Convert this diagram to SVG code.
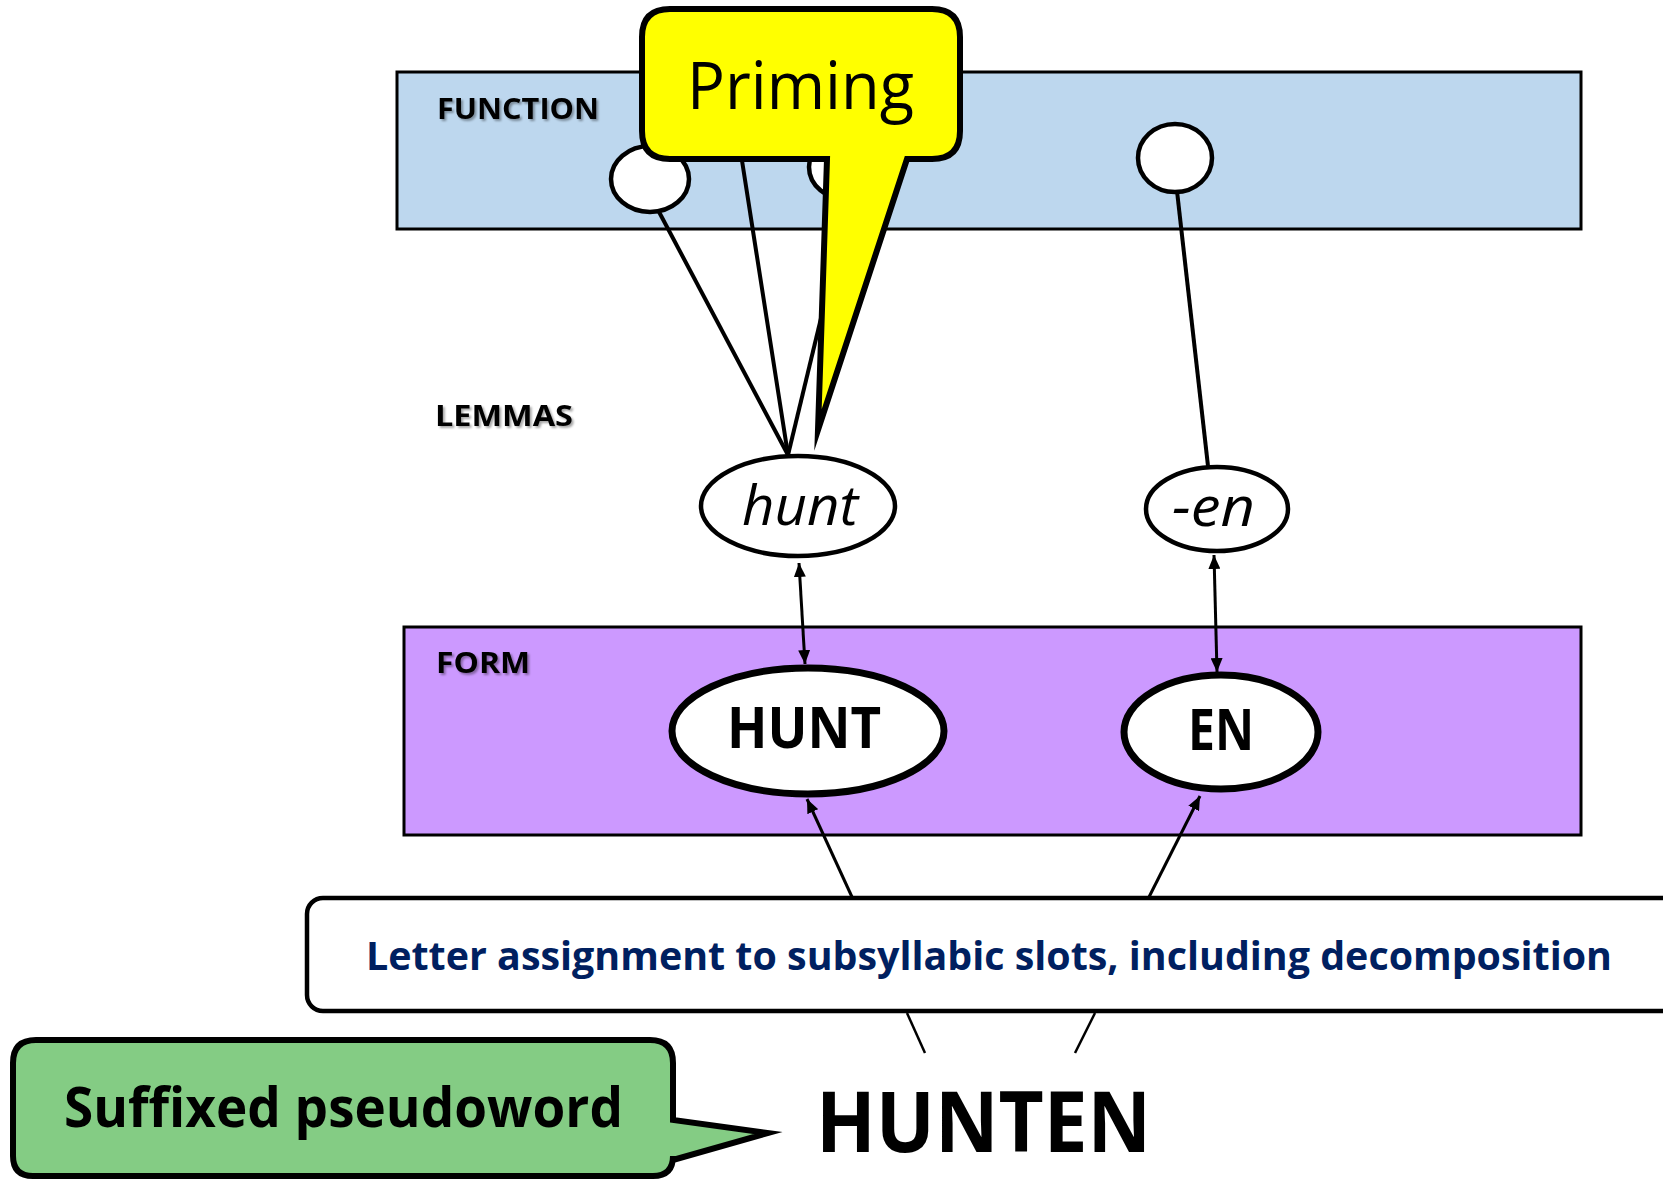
<svg xmlns="http://www.w3.org/2000/svg" width="1663" height="1182" viewBox="0 0 1663 1182">
<defs>
<style>
.lbl{font-family:"Open Sans","Liberation Sans",sans-serif;font-weight:bold;font-size:28px;fill:#000}
.conn{stroke:#000;stroke-width:4;fill:none}
.thin{stroke:#000;stroke-width:3;fill:none}
.node{fill:#fff;stroke:#000;stroke-width:4.5}
.big{fill:#fff;stroke:#000;stroke-width:7}
.it{font-family:"Open Sans","Liberation Sans",sans-serif;font-style:italic;font-size:54px;fill:#000}
.bold{font-family:"Open Sans","Liberation Sans",sans-serif;font-weight:bold;fill:#000}
</style>
<filter id="sh" x="-10%" y="-30%" width="130%" height="170%">
<feDropShadow dx="2" dy="2" stdDeviation="1" flood-color="#000" flood-opacity="0.35"/>
</filter>
<marker id="ah" markerWidth="14" markerHeight="12" refX="14" refY="6" orient="auto-start-reverse" markerUnits="userSpaceOnUse">
<path d="M0,0 L14,6 L0,12 Z" fill="#000"/>
</marker>
</defs>

<g id="function-layer">
<rect x="397" y="72" width="1184" height="157" fill="#BDD7EE" stroke="#000" stroke-width="3"/>
<text class="lbl" x="437" y="119" textLength="162" lengthAdjust="spacingAndGlyphs" filter="url(#sh)">FUNCTION</text>
</g>

<g id="form-layer">
<rect x="404" y="627" width="1177" height="208" fill="#CC99FF" stroke="#000" stroke-width="3"/>
<text class="lbl" x="436" y="673" textLength="94" lengthAdjust="spacingAndGlyphs" filter="url(#sh)">FORM</text>
</g>

<g id="lemmas-label">
<text class="lbl" x="435" y="426" textLength="138" lengthAdjust="spacingAndGlyphs" filter="url(#sh)">LEMMAS</text>
</g>

<g id="concept-1"><ellipse class="node" cx="650" cy="179" rx="39" ry="33"/></g>
<g id="concept-2"><ellipse class="node" cx="848" cy="167" rx="39" ry="33"/></g>
<g id="concept-3"><ellipse class="node" cx="1175" cy="158" rx="37" ry="34"/></g>

<g id="connectors">
<line class="conn" x1="658" y1="210" x2="788" y2="455"/>
<line class="conn" x1="738" y1="135" x2="788" y2="455"/>
<line class="conn" x1="850" y1="198" x2="788" y2="455"/>
<line class="conn" x1="1177" y1="191" x2="1208" y2="466"/>
<line class="thin" x1="799" y1="563" x2="805" y2="664" marker-start="url(#ah)" marker-end="url(#ah)"/>
<line class="thin" x1="1214" y1="555" x2="1217" y2="672" marker-start="url(#ah)" marker-end="url(#ah)"/>
<line class="thin" x1="852" y1="897" x2="807" y2="799" marker-end="url(#ah)"/>
<line class="thin" x1="1149" y1="897" x2="1200" y2="796" marker-end="url(#ah)"/>
<line stroke="#000" stroke-width="2.5" x1="907" y1="1013" x2="925" y2="1053"/>
<line stroke="#000" stroke-width="2.5" x1="1095" y1="1013" x2="1075" y2="1053"/>
</g>

<g id="priming-callout">
<path d="M670,9 H932 Q960,9 960,37 V131 Q960,159 932,159 H907 L818,430 L827,159 H670 Q642,159 642,131 V37 Q642,9 670,9 Z" fill="#FFFF00" stroke="#000" stroke-width="6" stroke-linejoin="miter" stroke-miterlimit="10"/>
<text class="bold" x="687" y="109" style="font-weight:normal;font-size:66px" textLength="227" lengthAdjust="spacingAndGlyphs">Priming</text>
</g>

<g id="lemma-hunt">
<ellipse class="node" cx="798" cy="506" rx="97" ry="50"/>
<text class="it" x="742" y="525" textLength="116" lengthAdjust="spacingAndGlyphs">hunt</text>
</g>

<g id="lemma-en">
<ellipse class="node" cx="1217" cy="509" rx="71" ry="42"/>
<text class="it" x="1172" y="526" textLength="83" lengthAdjust="spacingAndGlyphs">-en</text>
</g>

<g id="form-hunt">
<ellipse class="big" cx="808" cy="731" rx="136" ry="63"/>
<text class="bold" x="727" y="748" font-size="57" textLength="154" lengthAdjust="spacingAndGlyphs">HUNT</text>
</g>

<g id="form-en">
<ellipse class="big" cx="1221" cy="732" rx="97" ry="57"/>
<text class="bold" x="1188" y="750" font-size="57" textLength="66" lengthAdjust="spacingAndGlyphs">EN</text>
</g>

<g id="letter-assignment">
<rect x="307" y="898" width="1380" height="113" rx="16" ry="16" fill="#fff" stroke="#000" stroke-width="4.5"/>
<text class="bold" x="366" y="970" font-size="39" style="fill:#002060" textLength="1246" lengthAdjust="spacingAndGlyphs">Letter assignment to subsyllabic slots, including decomposition</text>
</g>

<g id="stimulus">
<text class="bold" x="816" y="1152" font-size="84" textLength="335" lengthAdjust="spacingAndGlyphs">HUNTEN</text>
</g>

<g id="suffixed-callout">
<path d="M36,1040 H650 Q673,1040 673,1063 V1120 L768,1133 L673,1160 V1156 Q673,1176 653,1176 H33 Q13,1176 13,1156 V1063 Q13,1040 36,1040 Z" fill="#84CC84" stroke="#000" stroke-width="6" stroke-linejoin="miter" stroke-miterlimit="10"/>
<text class="bold" x="64" y="1127" font-size="55" textLength="559" lengthAdjust="spacingAndGlyphs">Suffixed pseudoword</text>
</g>
</svg>
